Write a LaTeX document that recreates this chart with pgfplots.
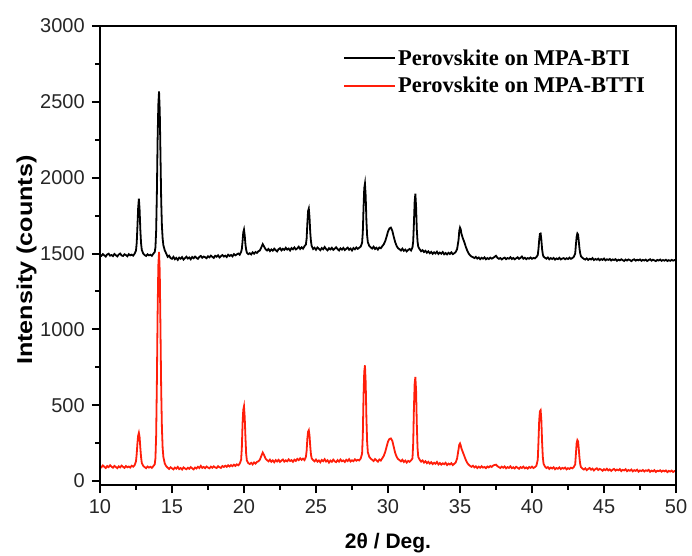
\documentclass[border=0pt]{standalone}
\usepackage{fontspec}
\setmainfont{Liberation Serif}
\setsansfont{Liberation Sans}
\usepackage{pgfplots}
\pgfplotsset{compat=1.18}
\definecolor{myred}{RGB}{255,30,10}
\begin{document}
\begin{tikzpicture}
\begin{axis}[
  name=ax,
  scale only axis,
  width=576pt, height=459pt,
  xmin=10, xmax=50, ymin=-26, ymax=3000,
  xtick={10,15,...,50}, ytick={0,500,...,3000},
  minor x tick num=1, minor y tick num=1,
  tick align=outside, tick pos=left,
  major tick length=8pt, minor tick length=4.5pt,
  line width=2pt,
  axis line style={line width=2.2pt},
  tick style={black, line width=2pt},
  major tick style={line width=2pt},
  minor tick style={line width=2pt},
  /pgf/number format/assume math mode=true,
  /pgf/number format/1000 sep={},
  ticklabel style={font=\sffamily\fontsize{20}{24}\selectfont, text=black!85},
  xticklabel style={yshift=-2pt},
  yticklabel style={xshift=-3pt},
  xlabel={\bfseries 2θ / Deg.},
  ylabel={\scalebox{1.17}[1]{\bfseries Intensity (counts)}},
  xlabel style={font=\sffamily\fontsize{21}{25}\selectfont, at={(axis description cs:0.5,0)}, anchor=base, yshift=-63pt},
  ylabel style={font=\sffamily\fontsize{21.5}{25}\selectfont, at={(axis description cs:-0.118,0.49)}, anchor=base},
  legend style={draw=none, fill=none, at={(rel axis cs:0.42,0.955)}, anchor=north west,
    font=\rmfamily\bfseries\fontsize{22.5}{27}\selectfont, row sep=6.5pt, inner sep=0pt},
  legend cell align=left,
  legend image code/.code={\draw[#1, line width=2.2pt] (0pt,0pt) -- (51pt,0pt);},
]
\addplot[myred, line width=1.8pt, forget plot] coordinates {
(10.0,98)(10.1,91)(10.2,103)(10.3,94)(10.4,86)(10.5,99)(10.6,92)(10.7,104)(10.8,95)(10.9,88)
(11.0,100)(11.1,93)(11.2,85)(11.3,97)(11.4,90)(11.5,102)(11.6,94)(11.7,87)(11.8,99)(11.9,91)
(12.0,96)(12.1,89)(12.2,101)(12.3,95)(12.4,104)(12.5,130)(12.55,180)(12.6,250)(12.65,300)(12.7,318)
(12.75,290)(12.8,220)(12.85,160)(12.9,120)(13.0,100)(13.1,92)(13.2,85)(13.3,96)(13.4,89)(13.5,94)
(13.6,87)(13.7,98)(13.8,110)(13.85,150)(13.9,300)(13.95,650)(14.0,1100)(14.05,1420)(14.1,1510)(14.15,1380)
(14.2,1000)(14.25,600)(14.3,350)(14.35,220)(14.4,160)(14.5,115)(14.6,98)(14.7,88)(14.8,80)(14.9,91)
(15.0,84)(15.1,77)(15.2,89)(15.3,82)(15.4,93)(15.5,79)(15.6,86)(15.7,76)(15.8,90)(15.9,83)
(16.0,78)(16.1,88)(16.2,81)(16.3,92)(16.4,84)(16.5,77)(16.6,89)(16.7,83)(16.8,94)(16.9,86)
(17.0,100)(17.1,87)(17.2,93)(17.3,85)(17.4,96)(17.5,89)(17.6,84)(17.7,95)(17.8,88)(17.9,97)
(18.0,90)(18.1,86)(18.2,98)(18.3,91)(18.4,87)(18.5,99)(18.6,93)(18.7,101)(18.8,94)(18.9,104)
(19.0,96)(19.1,105)(19.2,98)(19.3,108)(19.4,100)(19.5,110)(19.6,104)(19.7,114)(19.8,140)(19.85,220)
(19.9,380)(19.95,470)(20.0,493)(20.05,420)(20.1,290)(20.15,180)(20.2,135)(20.3,118)(20.4,112)(20.5,120)
(20.6,110)(20.7,123)(20.8,115)(20.9,126)(21.0,130)(21.1,140)(21.2,165)(21.3,188)(21.4,170)(21.5,148)
(21.6,138)(21.7,130)(21.8,141)(21.9,127)(22.0,136)(22.1,124)(22.2,138)(22.3,129)(22.4,140)(22.5,126)
(22.6,135)(22.7,142)(22.8,128)(22.9,137)(23.0,130)(23.1,143)(23.2,132)(23.3,138)(23.4,127)(23.5,141)
(23.6,133)(23.7,146)(23.8,138)(23.9,150)(24.0,140)(24.1,148)(24.2,138)(24.3,160)(24.35,200)(24.4,280)
(24.45,325)(24.5,335)(24.55,300)(24.6,230)(24.65,175)(24.7,150)(24.8,138)(24.9,130)(25.0,142)(25.1,128)
(25.2,136)(25.3,124)(25.4,139)(25.5,131)(25.6,144)(25.7,129)(25.8,137)(25.9,122)(26.0,135)(26.1,127)
(26.2,141)(26.3,130)(26.4,125)(26.5,138)(26.6,128)(26.7,142)(26.8,131)(26.9,136)(27.0,126)(27.1,140)
(27.2,132)(27.3,144)(27.4,129)(27.5,137)(27.6,131)(27.7,143)(27.8,134)(27.9,140)(28.0,136)(28.1,148)
(28.2,180)(28.25,300)(28.3,560)(28.35,720)(28.4,763)(28.45,650)(28.5,420)(28.55,260)(28.6,190)(28.7,160)
(28.8,148)(28.9,140)(29.0,132)(29.1,145)(29.2,136)(29.3,128)(29.4,142)(29.5,135)(29.6,150)(29.7,165)
(29.8,190)(29.9,225)(30.0,260)(30.1,278)(30.2,281)(30.3,265)(30.4,225)(30.5,185)(30.6,160)(30.7,145)
(30.8,138)(30.9,130)(31.0,140)(31.1,126)(31.2,135)(31.3,122)(31.4,133)(31.5,127)(31.6,136)(31.7,150)
(31.75,250)(31.8,480)(31.85,640)(31.9,686)(31.95,600)(32.0,380)(32.05,220)(32.1,160)(32.2,140)(32.3,128)
(32.4,136)(32.5,122)(32.6,131)(32.7,118)(32.8,127)(32.9,115)(33.0,124)(33.1,112)(33.2,121)(33.3,114)
(33.4,126)(33.5,110)(33.6,119)(33.7,108)(33.8,117)(33.9,111)(34.0,120)(34.1,106)(34.2,115)(34.3,109)
(34.4,118)(34.5,105)(34.6,114)(34.7,122)(34.8,150)(34.9,210)(34.95,240)(35.0,248)(35.05,235)(35.1,215)
(35.2,190)(35.3,165)(35.4,140)(35.5,120)(35.6,108)(35.7,100)(35.8,94)(35.9,101)(36.0,90)(36.1,97)
(36.2,86)(36.3,95)(36.4,88)(36.5,98)(36.6,89)(36.7,93)(36.8,85)(36.9,96)(37.0,90)(37.1,99)
(37.2,93)(37.3,102)(37.4,106)(37.5,108)(37.6,98)(37.7,92)(37.8,86)(37.9,95)(38.0,88)(38.1,96)
(38.2,84)(38.3,92)(38.4,87)(38.5,97)(38.6,85)(38.7,91)(38.8,83)(38.9,94)(39.0,88)(39.1,81)
(39.2,92)(39.3,86)(39.4,95)(39.5,84)(39.6,90)(39.7,82)(39.8,93)(39.9,87)(40.0,95)(40.1,86)
(40.2,92)(40.3,100)(40.4,140)(40.45,260)(40.5,400)(40.55,460)(40.6,467)(40.65,400)(40.7,260)(40.75,160)
(40.8,115)(40.9,95)(41.0,86)(41.1,92)(41.2,80)(41.3,89)(41.4,83)(41.5,91)(41.6,78)(41.7,86)
(41.8,81)(41.9,90)(42.0,79)(42.1,87)(42.2,82)(42.3,89)(42.4,77)(42.5,85)(42.6,80)(42.7,88)
(42.8,84)(42.9,92)(43.0,110)(43.05,180)(43.1,250)(43.15,270)(43.2,262)(43.25,210)(43.3,150)(43.35,110)
(43.4,92)(43.5,82)(43.6,76)(43.7,84)(43.8,72)(43.9,80)(44.0,86)(44.1,75)(44.2,82)(44.3,70)
(44.4,79)(44.5,84)(44.6,73)(44.7,80)(44.8,76)(44.9,68)(45.0,78)(45.1,72)(45.2,81)(45.3,70)
(45.4,77)(45.5,67)(45.6,75)(45.7,80)(45.8,69)(45.9,76)(46.0,71)(46.1,79)(46.2,66)(46.3,74)
(46.4,70)(46.5,78)(46.6,65)(46.7,73)(46.8,68)(46.9,76)(47.0,64)(47.1,72)(47.2,67)(47.3,75)
(47.4,62)(47.5,70)(47.6,66)(47.7,73)(47.8,63)(47.9,71)(48.0,67)(48.1,74)(48.2,61)(48.3,69)
(48.4,64)(48.5,72)(48.6,60)(48.7,68)(48.8,65)(48.9,71)(49.0,62)(49.1,69)(49.2,64)(49.3,70)
(49.4,59)(49.5,67)(49.6,63)(49.7,69)(49.8,60)(49.9,66)(50.0,64)
};
\addplot[black, line width=1.8pt, forget plot] coordinates {
(10.0,1492)(10.1,1485)(10.2,1496)(10.3,1488)(10.4,1480)(10.5,1494)(10.6,1499)(10.7,1486)(10.8,1490)(10.9,1483)
(11.0,1497)(11.1,1489)(11.2,1481)(11.3,1493)(11.4,1500)(11.5,1487)(11.6,1484)(11.7,1495)(11.8,1490)(11.9,1482)
(12.0,1496)(12.1,1488)(12.2,1493)(12.3,1486)(12.4,1498)(12.5,1520)(12.55,1570)(12.6,1680)(12.65,1800)(12.7,1862)
(12.75,1790)(12.8,1660)(12.85,1570)(12.9,1525)(13.0,1500)(13.1,1490)(13.2,1484)(13.3,1495)(13.4,1488)(13.5,1492)
(13.6,1485)(13.7,1498)(13.8,1510)(13.85,1540)(13.9,1650)(13.95,1900)(14.0,2250)(14.05,2480)(14.1,2568)(14.15,2440)
(14.2,2150)(14.25,1850)(14.3,1680)(14.35,1600)(14.4,1555)(14.5,1520)(14.6,1500)(14.7,1478)(14.8,1486)(14.9,1470)
(15.0,1465)(15.1,1478)(15.2,1462)(15.3,1471)(15.4,1458)(15.5,1473)(15.6,1466)(15.7,1476)(15.8,1460)(15.9,1470)
(16.0,1479)(16.1,1467)(16.2,1474)(16.3,1462)(16.4,1477)(16.5,1469)(16.6,1480)(16.7,1471)(16.8,1465)(16.9,1478)
(17.0,1484)(17.1,1472)(17.2,1480)(17.3,1476)(17.4,1469)(17.5,1482)(17.6,1475)(17.7,1486)(17.8,1478)(17.9,1471)
(18.0,1485)(18.1,1479)(18.2,1488)(18.3,1474)(18.4,1483)(18.5,1490)(18.6,1480)(18.7,1486)(18.8,1477)(18.9,1492)
(19.0,1484)(19.1,1490)(19.2,1481)(19.3,1496)(19.4,1488)(19.5,1494)(19.6,1500)(19.7,1492)(19.8,1510)(19.85,1530)
(19.9,1580)(19.95,1640)(20.0,1658)(20.05,1620)(20.1,1560)(20.15,1525)(20.2,1505)(20.3,1496)(20.4,1502)(20.5,1494)
(20.6,1508)(20.7,1499)(20.8,1510)(20.9,1504)(21.0,1515)(21.1,1520)(21.2,1540)(21.3,1562)(21.4,1545)(21.5,1528)
(21.6,1520)(21.7,1530)(21.8,1516)(21.9,1527)(22.0,1519)(22.1,1532)(22.2,1522)(22.3,1514)(22.4,1529)(22.5,1535)
(22.6,1521)(22.7,1531)(22.8,1524)(22.9,1538)(23.0,1526)(23.1,1533)(23.2,1520)(23.3,1536)(23.4,1528)(23.5,1540)
(23.6,1527)(23.7,1534)(23.8,1545)(23.9,1530)(24.0,1541)(24.1,1532)(24.2,1548)(24.3,1560)(24.35,1600)(24.4,1700)
(24.45,1780)(24.5,1796)(24.55,1740)(24.6,1640)(24.65,1580)(24.7,1550)(24.8,1530)(24.9,1538)(25.0,1525)(25.1,1540)
(25.2,1532)(25.3,1522)(25.4,1536)(25.5,1528)(25.6,1543)(25.7,1530)(25.8,1521)(25.9,1535)(26.0,1527)(26.1,1538)
(26.2,1524)(26.3,1532)(26.4,1541)(26.5,1529)(26.6,1520)(26.7,1534)(26.8,1526)(26.9,1537)(27.0,1523)(27.1,1531)
(27.2,1539)(27.3,1525)(27.4,1533)(27.5,1520)(27.6,1536)(27.7,1528)(27.8,1540)(27.9,1531)(28.0,1538)(28.1,1545)
(28.2,1570)(28.25,1640)(28.3,1800)(28.35,1930)(28.4,1961)(28.45,1880)(28.5,1720)(28.55,1620)(28.6,1575)(28.7,1550)
(28.8,1540)(28.9,1533)(29.0,1545)(29.1,1530)(29.2,1538)(29.3,1526)(29.4,1540)(29.5,1535)(29.6,1548)(29.7,1560)
(29.8,1580)(29.9,1610)(30.0,1645)(30.1,1665)(30.2,1671)(30.3,1650)(30.4,1610)(30.5,1575)(30.6,1550)(30.7,1535)
(30.8,1528)(30.9,1520)(31.0,1532)(31.1,1518)(31.2,1526)(31.3,1514)(31.4,1524)(31.5,1530)(31.6,1520)(31.7,1540)
(31.75,1580)(31.8,1700)(31.85,1840)(31.9,1895)(31.95,1810)(32.0,1660)(32.05,1580)(32.1,1545)(32.2,1528)(32.3,1515)
(32.4,1522)(32.5,1510)(32.6,1518)(32.7,1505)(32.8,1514)(32.9,1502)(33.0,1511)(33.1,1498)(33.2,1508)(33.3,1500)
(33.4,1512)(33.5,1497)(33.6,1506)(33.7,1499)(33.8,1510)(33.9,1495)(34.0,1503)(34.1,1494)(34.2,1505)(34.3,1497)
(34.4,1508)(34.5,1496)(34.6,1502)(34.7,1510)(34.8,1530)(34.9,1590)(34.95,1650)(35.0,1671)(35.05,1660)(35.1,1630)
(35.2,1600)(35.3,1575)(35.4,1545)(35.5,1520)(35.6,1500)(35.7,1488)(35.8,1480)(35.9,1476)(36.0,1470)(36.1,1478)
(36.2,1467)(36.3,1474)(36.4,1463)(36.5,1472)(36.6,1466)(36.7,1475)(36.8,1462)(36.9,1470)(37.0,1464)(37.1,1473)
(37.2,1466)(37.3,1471)(37.4,1478)(37.5,1485)(37.6,1472)(37.7,1465)(37.8,1470)(37.9,1461)(38.0,1468)(38.1,1473)
(38.2,1463)(38.3,1470)(38.4,1466)(38.5,1476)(38.6,1464)(38.7,1471)(38.8,1462)(38.9,1469)(39.0,1475)(39.1,1465)
(39.2,1471)(39.3,1480)(39.4,1466)(39.5,1472)(39.6,1463)(39.7,1470)(39.8,1466)(39.9,1474)(40.0,1465)(40.1,1471)
(40.2,1468)(40.3,1476)(40.4,1490)(40.45,1530)(40.5,1590)(40.55,1630)(40.6,1632)(40.65,1590)(40.7,1530)(40.75,1495)
(40.8,1480)(40.9,1472)(41.0,1466)(41.1,1474)(41.2,1462)(41.3,1470)(41.4,1464)(41.5,1471)(41.6,1460)(41.7,1468)
(41.8,1463)(41.9,1472)(42.0,1461)(42.1,1467)(42.2,1470)(42.3,1462)(42.4,1469)(42.5,1464)(42.6,1473)(42.7,1465)
(42.8,1470)(42.9,1478)(43.0,1500)(43.05,1560)(43.1,1610)(43.15,1632)(43.2,1625)(43.25,1580)(43.3,1530)(43.35,1500)
(43.4,1482)(43.5,1472)(43.6,1465)(43.7,1460)(43.8,1468)(43.9,1458)(44.0,1465)(44.1,1461)(44.2,1470)(44.3,1457)
(44.4,1464)(44.5,1459)(44.6,1466)(44.7,1456)(44.8,1463)(44.9,1458)(45.0,1467)(45.1,1455)(45.2,1462)(45.3,1458)
(45.4,1464)(45.5,1454)(45.6,1461)(45.7,1457)(45.8,1463)(45.9,1452)(46.0,1459)(46.1,1455)(46.2,1462)(46.3,1456)
(46.4,1451)(46.5,1460)(46.6,1454)(46.7,1461)(46.8,1457)(46.9,1450)(47.0,1458)(47.1,1462)(47.2,1453)(47.3,1459)
(47.4,1455)(47.5,1461)(47.6,1452)(47.7,1458)(47.8,1454)(47.9,1460)(48.0,1451)(48.1,1457)(48.2,1462)(48.3,1453)
(48.4,1459)(48.5,1455)(48.6,1450)(48.7,1458)(48.8,1454)(48.9,1460)(49.0,1452)(49.1,1457)(49.2,1453)(49.3,1459)
(49.4,1451)(49.5,1456)(49.6,1452)(49.7,1458)(49.8,1453)(49.9,1457)(50.0,1454)
};
\addlegendimage{black, line width=2.2pt}
\addlegendentry{Perovskite on MPA-BTI}
\addlegendimage{myred, line width=2.2pt}
\addlegendentry{Perovskite on MPA-BTTI}
\end{axis}
\draw[line width=2.2pt, line cap=rect] (ax.south west) rectangle (ax.north east);
\pgfresetboundingbox
\path (ax.south west) ++(-100pt,-70pt) coordinate (bl);
\path (ax.north east) ++(16pt,26pt) coordinate (tr);
\path[use as bounding box] (bl) rectangle (tr);
\end{tikzpicture}
\end{document}
